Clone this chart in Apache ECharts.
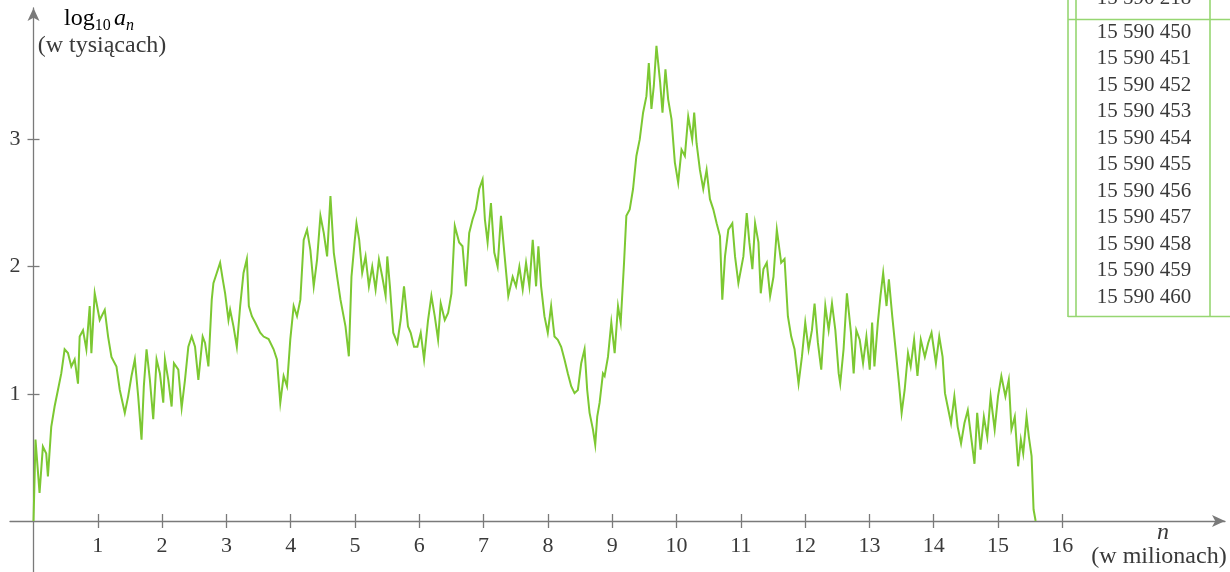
<!DOCTYPE html>
<html>
<head>
<meta charset="utf-8">
<script src="https://cdn.jsdelivr.net/npm/echarts@6/dist/echarts.min.js"></script>
<style>
html,body{margin:0;padding:0;background:#fff;}
#chart{width:1230px;height:572px;}
</style>
</head>
<body>
<div id="chart"></div>
<script>
// n in millions
const nX = [0,0.016,0.031,0.094,0.146,0.198,0.224,0.276,0.328,0.380,0.432,0.484,0.536,0.588,0.640,0.692,0.718,0.770,0.822,0.874,0.900,0.952,1.030,1.108,1.160,1.212,1.290,1.342,1.420,1.472,1.524,1.576,1.628,1.680,1.716,1.758,1.810,1.862,1.914,1.966,2.018,2.044,2.096,2.148,2.184,2.252,2.304,2.356,2.408,2.460,2.512,2.564,2.631,2.668,2.720,2.772,2.798,2.850,2.902,2.943,2.980,3.032,3.058,3.110,3.162,3.214,3.266,3.318,3.349,3.396,3.448,3.526,3.578,3.656,3.734,3.786,3.838,3.890,3.942,3.994,4.046,4.098,
4.150,4.202,4.254,4.306,4.358,4.410,4.462,4.514,4.566,4.618,4.670,4.722,4.774,4.852,4.904,4.945,4.993,5.023,5.065,5.112,5.164,5.216,5.268,5.320,5.372,5.424,5.476,5.502,5.543,5.595,5.658,5.710,5.762,5.824,5.866,5.918,5.970,6.022,6.074,6.136,6.188,6.240,6.292,6.333,6.396,6.448,6.500,6.552,6.620,6.672,6.724,6.776,6.828,6.880,6.932,6.984,7.020,7.062,7.114,7.166,7.218,7.270,7.332,7.384,7.452,7.504,7.556,7.608,7.660,7.712,7.764,7.816,7.852,7.894,7.946,7.998,8.050,8.102,8.154,8.206,8.258,8.310,8.362,8.414,8.466,
8.518,8.570,8.611,8.648,8.700,8.736,8.767,8.804,8.856,8.882,8.934,8.986,9.038,9.090,9.132,9.184,9.220,9.272,9.324,9.376,9.428,9.480,9.532,9.569,9.610,9.647,9.688,9.745,9.782,9.828,9.870,9.922,9.974,10.026,10.078,10.130,10.182,10.244,10.275,10.312,10.364,10.416,10.468,10.520,10.572,10.624,10.676,10.712,10.754,10.806,10.868,10.910,10.962,11.040,11.092,11.133,11.180,11.222,11.274,11.310,11.352,11.404,11.456,11.508,11.560,11.628,11.680,11.732,11.784,11.836,11.898,11.950,12.002,12.054,12.106,12.147,12.199,12.251,12.314,12.366,12.418,12.470,12.522,
12.546,12.598,12.650,12.713,12.755,12.796,12.849,12.901,12.953,13.005,13.042,13.078,13.131,13.172,13.214,13.266,13.303,13.355,13.407,13.460,13.501,13.548,13.600,13.642,13.695,13.747,13.799,13.862,13.914,13.966,14.034,14.086,14.138,14.175,14.217,14.269,14.321,14.373,14.425,14.478,14.530,14.582,14.634,14.676,14.728,14.780,14.833,14.885,14.948,15.000,15.052,15.115,15.167,15.209,15.261,15.313,15.355,15.392,15.444,15.480,15.522,15.553,15.585,15.5905];
// log10 a_n (in thousands)
const logA = [0,0.32,0.64,0.22,0.585,0.53,0.35,0.74,0.90,1.03,1.16,1.35,1.32,1.215,1.27,1.08,1.45,1.50,1.35,1.69,1.32,1.79,1.58,1.66,1.45,1.29,1.215,1.03,0.85,0.98,1.14,1.27,0.98,0.64,1.06,1.35,1.11,0.80,1.27,1.16,0.93,1.27,1.11,0.90,1.24,1.19,0.89,1.11,1.37,1.45,1.37,1.11,1.45,1.40,1.215,1.74,1.87,1.95,2.03,1.90,1.79,1.58,1.66,1.53,1.37,1.69,1.95,2.06,1.69,1.61,1.56,1.48,1.45,1.43,1.35,1.27,0.93,1.14,1.06,1.43,1.69,
1.61,1.74,2.21,2.29,2.13,1.845,2.055,2.40,2.265,2.08,2.555,2.11,1.92,1.74,1.53,1.295,1.92,2.19,2.34,2.21,1.95,2.08,1.845,2.00,1.82,2.055,1.92,1.77,2.08,1.845,1.48,1.40,1.58,1.845,1.53,1.48,1.37,1.37,1.48,1.27,1.58,1.77,1.61,1.425,1.71,1.58,1.635,1.79,2.32,2.19,2.16,1.845,2.265,2.37,2.45,2.61,2.685,2.37,2.19,2.50,2.11,2.00,2.40,2.055,1.77,1.92,1.845,2.00,1.82,2.03,1.845,2.21,1.845,2.16,1.845,1.61,1.48,1.69,1.45,1.425,1.37,1.27,1.16,1.06,1.005,
1.03,1.24,1.35,1.03,0.85,0.72,0.60,0.82,0.93,1.16,1.14,1.29,1.56,1.32,1.69,1.56,2.03,2.40,2.45,2.61,2.87,3.00,3.21,3.34,3.60,3.24,3.42,3.735,3.45,3.21,3.55,3.315,3.16,2.82,2.66,2.92,2.87,3.18,3.00,3.21,2.97,2.76,2.61,2.76,2.53,2.45,2.34,2.24,1.74,2.08,2.29,2.34,2.08,1.87,2.08,2.42,2.19,1.98,2.34,2.19,1.79,1.98,2.03,1.77,1.92,2.29,2.03,2.06,1.61,1.45,1.35,1.08,1.29,1.56,1.35,1.50,1.71,1.40,1.19,1.69,1.50,1.71,1.50,
1.16,1.08,1.35,1.79,1.48,1.16,1.50,1.425,1.24,1.45,1.19,1.56,1.215,1.56,1.77,1.95,1.69,1.90,1.61,1.35,1.08,0.85,1.03,1.32,1.215,1.425,1.14,1.425,1.29,1.40,1.48,1.24,1.45,1.29,1.005,0.90,0.77,0.98,0.74,0.61,0.77,0.87,0.66,0.45,0.85,0.56,0.82,0.66,0.98,0.72,0.98,1.14,0.98,1.11,0.72,0.82,0.43,0.64,0.53,0.82,0.66,0.51,0.09,0];

const xTicks = [1,2,3,4,5,6,7,8,9,10,11,12,13,14,15,16];
const yTicks = [1,2,3];
const tableRows = ['15 590 450','15 590 451','15 590 452','15 590 453','15 590 454','15 590 455','15 590 456','15 590 457','15 590 458','15 590 459','15 590 460'];
const tableTopCut = '15 590 218';

const FONT = '"Liberation Serif", "DejaVu Serif", serif';
const AXIS_C = '#7a7a7a';
const TXT_C = '#3a3a3a';
const GREEN = '#7cc832';
const TABLE_C = '#96d672';

const seriesData = nX.map((x, i) => [x, logA[i]]);

const chart = echarts.init(document.getElementById('chart'), null, {renderer: 'canvas'});

const xRange = {min: -0.3655, max: 18.53};
const yRange = {min: -0.401, max: 4.033};

const graphic = [];
// y-axis title
graphic.push({type:'text', x: 64, y: 19, z: 10, style: {
  text: '{l|log}{s|10} {i|a}{n|n}', align: 'left', verticalAlign: 'middle',
  rich: {
    l: {fontFamily: FONT, fontSize: 24, lineHeight: 30, color: TXT_C},
    s: {fontFamily: FONT, fontSize: 16, lineHeight: 16, verticalAlign: 'bottom', color: TXT_C},
    i: {fontFamily: FONT, fontSize: 24, fontStyle: 'italic', lineHeight: 30, color: TXT_C},
    n: {fontFamily: FONT, fontSize: 16, fontStyle: 'italic', lineHeight: 16, verticalAlign: 'bottom', color: TXT_C}
  }
}});
graphic.push({type:'text', x: 102, y: 46, z: 10, style: {text: '(w tysiącach)', font: '24px ' + FONT, fill: TXT_C, align: 'center', verticalAlign: 'middle'}});
// x-axis title
graphic.push({type:'text', x: 1163, y: 533, z: 10, style: {text: 'n', font: 'italic 24px ' + FONT, fill: TXT_C, align: 'center', verticalAlign: 'middle'}});
graphic.push({type:'text', x: 1159, y: 557, z: 10, style: {text: '(w milionach)', font: '24px ' + FONT, fill: TXT_C, align: 'center', verticalAlign: 'middle'}});
// table frame
const tl = (x1,y1,x2,y2) => graphic.push({type:'line', z: 5, shape:{x1,y1,x2,y2}, style:{stroke: TABLE_C, lineWidth: 1.6}});
tl(1068, 0, 1068, 317);
tl(1076, 0, 1076, 317);
tl(1210, 0, 1210, 317);
tl(1068, 19.5, 1230, 19.5);
tl(1068, 316.5, 1230, 316.5);
graphic.push({type:'text', x: 1144, y: -2, z: 10, style: {text: tableTopCut, font: '21px ' + FONT, fill: TXT_C, align: 'center', verticalAlign: 'middle'}});
tableRows.forEach((t, i) => {
  graphic.push({type:'text', x: 1144, y: 32 + i * 26.5, z: 10, style: {text: t, font: '21px ' + FONT, fill: TXT_C, align: 'center', verticalAlign: 'middle'}});
});

const labelFmt = (list) => (v) => (list.indexOf(Math.round(v * 1000) / 1000) >= 0 ? String(v) : '');

const option = {
  backgroundColor: '#ffffff',
  animation: false,
  grid: [
    {left: 10, right: 5, top: 8, bottom: 0, containLabel: false, outerBoundsMode: 'none'},
    // helper grid spanning 0..16 x 0..max, carrying the tick labels
    {left: 33.5, right: 167.7, top: 8, bottom: 51, containLabel: false, outerBoundsMode: 'none'}
  ],
  xAxis: [
    {type: 'value', gridIndex: 0, ...xRange, position: 'bottom',
     axisLine: {show: true, onZero: true, symbol: ['none', 'arrow'], symbolSize: [9, 13], lineStyle: {color: AXIS_C, width: 1.3}},
     axisTick: {show: true, length: 7, customValues: xTicks, lineStyle: {color: AXIS_C, width: 1.3}},
     axisLabel: {show: false},
     splitLine: {show: false}},
    {type: 'value', gridIndex: 0, ...xRange, position: 'top',
     axisLine: {show: false, onZero: true},
     axisTick: {show: true, length: 7, customValues: xTicks, lineStyle: {color: AXIS_C, width: 1.3}},
     axisLabel: {show: false},
     splitLine: {show: false}},
    {type: 'value', gridIndex: 1, min: 0, max: 16, interval: 1, position: 'bottom',
     axisLine: {show: false, onZero: false},
     axisTick: {show: false},
     axisLabel: {show: true, margin: 14, fontFamily: FONT, fontSize: 22, color: TXT_C, formatter: labelFmt(xTicks), showMinLabel: true, showMaxLabel: true},
     splitLine: {show: false}}
  ],
  yAxis: [
    {type: 'value', gridIndex: 0, ...yRange, position: 'left',
     axisLine: {show: true, onZero: true, symbol: ['none', 'arrow'], symbolSize: [9, 13], lineStyle: {color: AXIS_C, width: 1.3}},
     axisTick: {show: true, length: 6, customValues: yTicks, lineStyle: {color: AXIS_C, width: 1.3}},
     axisLabel: {show: false},
     splitLine: {show: false}},
    {type: 'value', gridIndex: 0, ...yRange, position: 'right',
     axisLine: {show: false, onZero: true},
     axisTick: {show: true, length: 6, customValues: yTicks, lineStyle: {color: AXIS_C, width: 1.3}},
     axisLabel: {show: false},
     splitLine: {show: false}},
    {type: 'value', gridIndex: 1, min: 0, max: 4.033, interval: 1, position: 'left',
     axisLine: {show: false, onZero: false},
     axisTick: {show: false},
     axisLabel: {show: true, margin: 13, fontFamily: FONT, fontSize: 22, color: TXT_C, formatter: labelFmt(yTicks)},
     splitLine: {show: false}}
  ],
  series: [{
    type: 'line', xAxisIndex: 0, yAxisIndex: 0,
    data: seriesData, showSymbol: false, symbol: 'none',
    lineStyle: {color: GREEN, width: 2, join: 'miter'},
    z: 3
  }],
  graphic: graphic
};
chart.setOption(option);
</script>
</body>
</html>
